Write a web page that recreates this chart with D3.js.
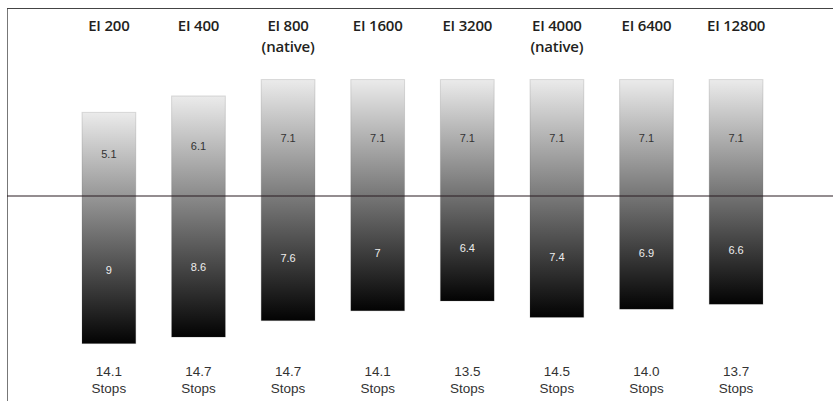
<!DOCTYPE html>
<html>
<head>
<meta charset="utf-8">
<script src="https://cdn.jsdelivr.net/npm/d3@7"></script>
<style>
  html, body { margin: 0; padding: 0; background: #fff; }
  svg { display: block; }
</style>
</head>
<body>
<script>
const categories = ["EI 200", "EI 400", "EI 800", "EI 1600", "EI 3200", "EI 4000", "EI 6400", "EI 12800"];
const subLabels = ["", "", "(native)", "", "", "(native)", "", ""];
const highlightStops = [5.1, 6.1, 7.1, 7.1, 7.1, 7.1, 7.1, 7.1];
const shadowStops = [9, 8.6, 7.6, 7, 6.4, 7.4, 6.9, 6.6];
const totalStops = ["14.1", "14.7", "14.7", "14.1", "13.5", "14.5", "14.0", "13.7"];

const W = 833, H = 401;
const svg = d3.select("body").append("svg").attr("width", W).attr("height", H);

const x = d3.scaleBand().domain(categories).range([64.08, 780.88]).paddingInner(0.4).paddingOuter(0.2);
const y = d3.scaleLinear().domain([-10, 10]).range([196 + 164, 196 - 164]);

const defs = svg.append("defs");
const grad = defs.append("linearGradient").attr("id", "barGrad")
  .attr("x1", 0).attr("y1", 0).attr("x2", 0).attr("y2", 1);
grad.append("stop").attr("offset", "0%").attr("stop-color", "#ebebeb");
grad.append("stop").attr("offset", "100%").attr("stop-color", "#030303");

// frame
svg.append("line").attr("x1", 7.5).attr("x2", 7.5).attr("y1", 8.5).attr("y2", H)
  .attr("stroke", "#777").attr("stroke-width", 1);
svg.append("line").attr("x1", 7).attr("x2", W).attr("y1", 8.5).attr("y2", 8.5)
  .attr("stroke", "#444").attr("stroke-width", 1);

const g = svg.append("g").selectAll("g").data(categories).join("g");

g.append("rect")
  .attr("x", d => x(d))
  .attr("width", x.bandwidth())
  .attr("y", (d, i) => y(highlightStops[i]))
  .attr("height", (d, i) => y(-shadowStops[i]) - y(highlightStops[i]))
  .attr("fill", "url(#barGrad)")
  .attr("stroke", "rgba(80,80,80,0.18)")
  .attr("stroke-width", 1);

// zero line
svg.append("line").attr("x1", 7).attr("x2", W).attr("y1", y(0)).attr("y2", y(0))
  .attr("stroke", "#2b1d22").attr("stroke-width", 1.2);

// value labels
g.append("text")
  .attr("x", d => x(d) + x.bandwidth() / 2)
  .attr("y", (d, i) => (y(0) + y(highlightStops[i])) / 2 + 4)
  .attr("text-anchor", "middle")
  .attr("font-family", "Liberation Sans, Arial, sans-serif")
  .attr("font-size", 11)
  .attr("fill", "#333")
  .text((d, i) => highlightStops[i]);

g.append("text")
  .attr("x", d => x(d) + x.bandwidth() / 2)
  .attr("y", (d, i) => (y(0) + y(-shadowStops[i])) / 2 + 4)
  .attr("text-anchor", "middle")
  .attr("font-family", "Liberation Sans, Arial, sans-serif")
  .attr("font-size", 11)
  .attr("fill", "#eee")
  .text((d, i) => shadowStops[i]);

// category labels
const catStyle = sel => sel
  .attr("text-anchor", "middle")
  .attr("font-family", "Open Sans, sans-serif")
  .attr("font-weight", 600)
  .attr("font-size", 15)
  .attr("letter-spacing", -0.2)
  .attr("fill", "#231f20");

g.append("text").call(catStyle)
  .attr("x", d => x(d) + x.bandwidth() / 2).attr("y", 30.5).text(d => d);
g.filter((d, i) => subLabels[i] !== "").append("text").call(catStyle)
  .attr("x", d => x(d) + x.bandwidth() / 2).attr("y", 51.5)
  .text(d => subLabels[categories.indexOf(d)]);

// stops labels
const st = g.append("text")
  .attr("text-anchor", "middle")
  .attr("font-family", "Liberation Sans, Arial, sans-serif")
  .attr("font-size", 13.5)
  .attr("fill", "#333");
st.append("tspan").attr("x", d => x(d) + x.bandwidth() / 2).attr("y", 376).text((d, i) => totalStops[i]);
st.append("tspan").attr("x", d => x(d) + x.bandwidth() / 2).attr("y", 393).text("Stops");
</script>
</body>
</html>
